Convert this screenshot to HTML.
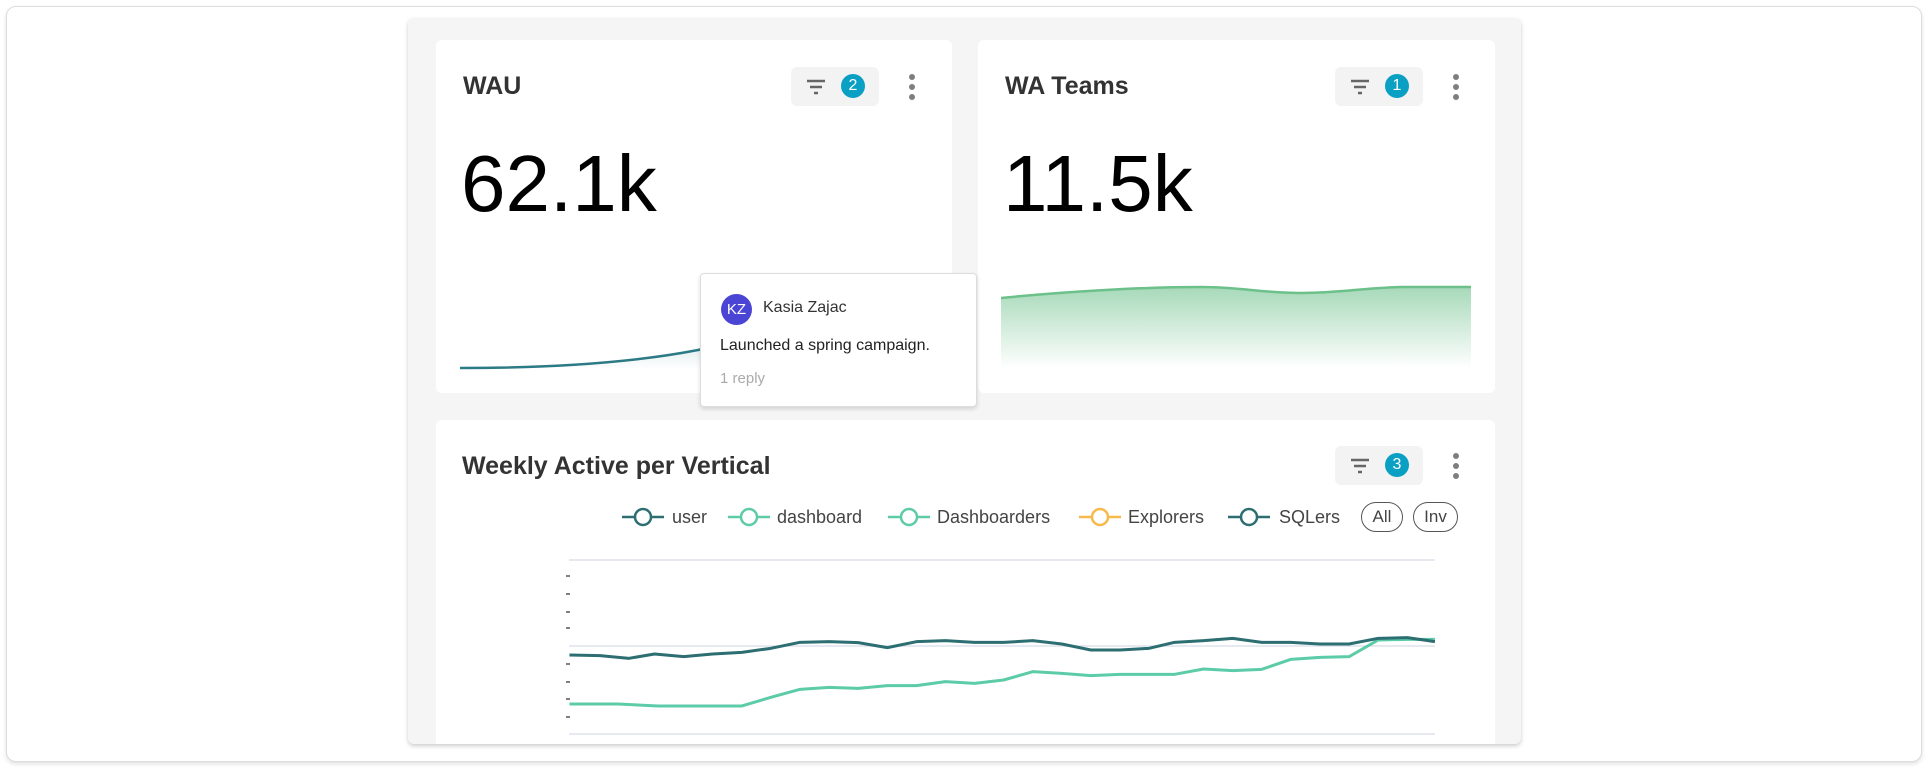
<!DOCTYPE html>
<html><head><meta charset="utf-8"><style>
*{box-sizing:border-box;margin:0;padding:0}
body{width:1928px;height:770px;background:#fff;font-family:"Liberation Sans",sans-serif;position:relative;overflow:hidden}
.frame{position:absolute;left:6px;top:6px;width:1916px;height:756px;border:1px solid #ddd;border-radius:10px;box-shadow:0 2px 4px rgba(0,0,0,.12);background:#fff}
.cont{position:absolute;left:408px;top:18px;width:1113px;height:726px;background:#f5f5f5;border-radius:6px;box-shadow:0 2px 4px rgba(0,0,0,.2);overflow:hidden}
.card{position:absolute;background:#fff;border-radius:6px}
.title{position:absolute;font-size:25px;font-weight:bold;color:#333}
.big{position:absolute;font-size:80px;color:#000;line-height:1}
.pill{position:absolute;width:88px;height:39px;background:#f3f3f3;border-radius:6px}
.badge{position:absolute;width:24px;height:24px;border-radius:50%;background:#0aa0c4;color:#fff;font-size:16px;text-align:center;line-height:24px}
.kebab{position:absolute;width:6px}
.kebab i{display:block;width:6px;height:6px;border-radius:50%;background:#7b7f82;margin-bottom:4px}
.tip{position:absolute;left:700px;top:273px;width:277px;height:134px;background:#fff;border:1px solid #ddd;border-radius:4px;box-shadow:0 2px 4px rgba(0,0,0,.15)}
.leg{position:absolute;top:505px;font-size:18px;color:#444;line-height:24px}
</style></head><body>
<div class="frame"></div>
<div class="cont"></div>
<!-- WAU -->
<div class="card" style="left:436px;top:40px;width:516px;height:353px"></div>
<div class="title" style="left:463px;top:72px">WAU</div>
<div class="pill" style="left:791px;top:67px"></div>
<svg style="position:absolute;left:806px;top:77px" width="20" height="20"><path d="M1 4h18M4 10h12M8 16h4" stroke="#666" stroke-width="2.4"/></svg>
<div class="badge" style="left:841px;top:74px">2</div>
<div class="kebab" style="left:909px;top:74px"><i></i><i></i><i></i></div>
<div class="big" style="left:461px;top:144px">62.1k</div>
<svg style="position:absolute;left:436px;top:230px" width="516" height="160">
<defs><linearGradient id="g1" x1="0" y1="0" x2="0" y2="1"><stop offset="0" stop-color="#2b7a85" stop-opacity=".15"/><stop offset="1" stop-color="#2b7a85" stop-opacity="0"/></linearGradient></defs>
<path d="M24 138 C120 138 200 132 262 120 L300 112 L300 140 L24 140Z" fill="url(#g1)"/>
<path d="M24 138 C120 138 200 132 262 120 L300 112" fill="none" stroke="#2b7a85" stroke-width="2.5"/>
</svg>
<!-- WA Teams -->
<div class="card" style="left:978px;top:40px;width:517px;height:353px"></div>
<div class="title" style="left:1005px;top:72px">WA Teams</div>
<div class="pill" style="left:1335px;top:67px"></div>
<svg style="position:absolute;left:1350px;top:77px" width="20" height="20"><path d="M1 4h18M4 10h12M8 16h4" stroke="#666" stroke-width="2.4"/></svg>
<div class="badge" style="left:1385px;top:74px">1</div>
<div class="kebab" style="left:1453px;top:74px"><i></i><i></i><i></i></div>
<div class="big" style="left:1003px;top:144px">11.5k</div>
<svg style="position:absolute;left:1001px;top:280px" width="470" height="90">
<defs><linearGradient id="g2" x1="0" y1="0" x2="0" y2="1"><stop offset="0" stop-color="#6cc08a" stop-opacity=".6"/><stop offset="1" stop-color="#6cc08a" stop-opacity="0"/></linearGradient></defs>
<path d="M0 18 C60 12 140 7 200 7 C240 7 260 13 300 13 C340 13 360 8 400 7 L470 7 L470 88 L0 88Z" fill="url(#g2)"/>
<path d="M0 18 C60 12 140 7 200 7 C240 7 260 13 300 13 C340 13 360 8 400 7 L470 7" fill="none" stroke="#6cc08a" stroke-width="2.5"/>
</svg>
<!-- tooltip -->
<div class="tip">
<div style="position:absolute;left:20px;top:20px;width:31px;height:31px;border-radius:50%;background:#4b45d6;color:#fff;font-size:15px;text-align:center;line-height:31px">KZ</div>
<div style="position:absolute;left:62px;top:25px;font-size:16px;color:#333">Kasia Zajac</div>
<div style="position:absolute;left:19px;top:63px;font-size:16px;color:#222">Launched a spring campaign.</div>
<div style="position:absolute;left:19px;top:96px;font-size:15px;color:#aaa">1 reply</div>
</div>
<!-- bottom card -->
<div class="card" style="left:436px;top:420px;width:1059px;height:324px;border-radius:6px 6px 0 0"></div>
<div class="title" style="left:462px;top:452px">Weekly Active per Vertical</div>
<div class="pill" style="left:1335px;top:446px"></div>
<svg style="position:absolute;left:1350px;top:456px" width="20" height="20"><path d="M1 4h18M4 10h12M8 16h4" stroke="#666" stroke-width="2.4"/></svg>
<div class="badge" style="left:1385px;top:453px">3</div>
<div class="kebab" style="left:1453px;top:453px"><i></i><i></i><i></i></div>
<svg style="position:absolute;left:620px;top:505px" width="60" height="24"><path d="M2 12h42" stroke="#2c6e71" stroke-width="2.5"/><circle cx="23" cy="12" r="8" fill="#fff" stroke="#2c6e71" stroke-width="2.5"/></svg>
<div class="leg" style="left:672px">user</div>
<svg style="position:absolute;left:726px;top:505px" width="60" height="24"><path d="M2 12h42" stroke="#5ccba8" stroke-width="2.5"/><circle cx="23" cy="12" r="8" fill="#fff" stroke="#5ccba8" stroke-width="2.5"/></svg>
<div class="leg" style="left:777px">dashboard</div>
<svg style="position:absolute;left:886px;top:505px" width="60" height="24"><path d="M2 12h42" stroke="#5ccba8" stroke-width="2.5"/><circle cx="23" cy="12" r="8" fill="#fff" stroke="#5ccba8" stroke-width="2.5"/></svg>
<div class="leg" style="left:937px">Dashboarders</div>
<svg style="position:absolute;left:1077px;top:505px" width="60" height="24"><path d="M2 12h42" stroke="#f6b94a" stroke-width="2.5"/><circle cx="23" cy="12" r="8" fill="#fff" stroke="#f6b94a" stroke-width="2.5"/></svg>
<div class="leg" style="left:1128px">Explorers</div>
<svg style="position:absolute;left:1226px;top:505px" width="60" height="24"><path d="M2 12h42" stroke="#2c6e71" stroke-width="2.5"/><circle cx="23" cy="12" r="8" fill="#fff" stroke="#2c6e71" stroke-width="2.5"/></svg>
<div class="leg" style="left:1279px">SQLers</div>
<div class="leg" style="left:1361px;top:502px;width:42px;height:30px;border:1.5px solid #555;border-radius:15px;text-align:center;line-height:27px;font-size:17px">All</div>
<div class="leg" style="left:1413px;top:502px;width:45px;height:30px;border:1.5px solid #555;border-radius:15px;text-align:center;line-height:27px;font-size:17px">Inv</div>
<svg style="position:absolute;left:0;top:0" width="1928" height="770">
<g stroke="#dde3ec" stroke-width="1.5"><path d="M569 560H1435M569 646H1435M569 734H1435"/></g>
<g stroke="#555" stroke-width="1.5"><path d="M566 576h4M566 594h4M566 612h4M566 628h4M566 664h4M566 682h4M566 699h4M566 717h4"/></g>
<g transform="translate(400,410) scale(0.72727,0.33333)" fill="none" stroke-width="3" stroke-linejoin="round">
<polyline vector-effect="non-scaling-stroke" stroke="#5ccba8" points="233,882 300,882 355,888 470,888 510,862 550,838 590,832 630,835 670,827 710,827 750,815 790,820 830,810 870,785 910,790 950,797 990,793 1065,793 1105,777 1145,782 1185,778 1225,748 1265,742 1305,740 1345,690 1385,688 1423,688"/>
<polyline vector-effect="non-scaling-stroke" stroke="#2c6e71" points="233,735 275,737 315,745 350,732 390,740 430,732 470,727 510,715 550,697 590,695 630,698 670,713 710,695 750,692 790,697 830,697 870,692 910,702 950,720 990,720 1030,715 1065,697 1105,692 1145,685 1185,697 1225,697 1265,702 1305,702 1345,685 1385,683 1423,695"/>
</g>
</svg>
</body></html>
